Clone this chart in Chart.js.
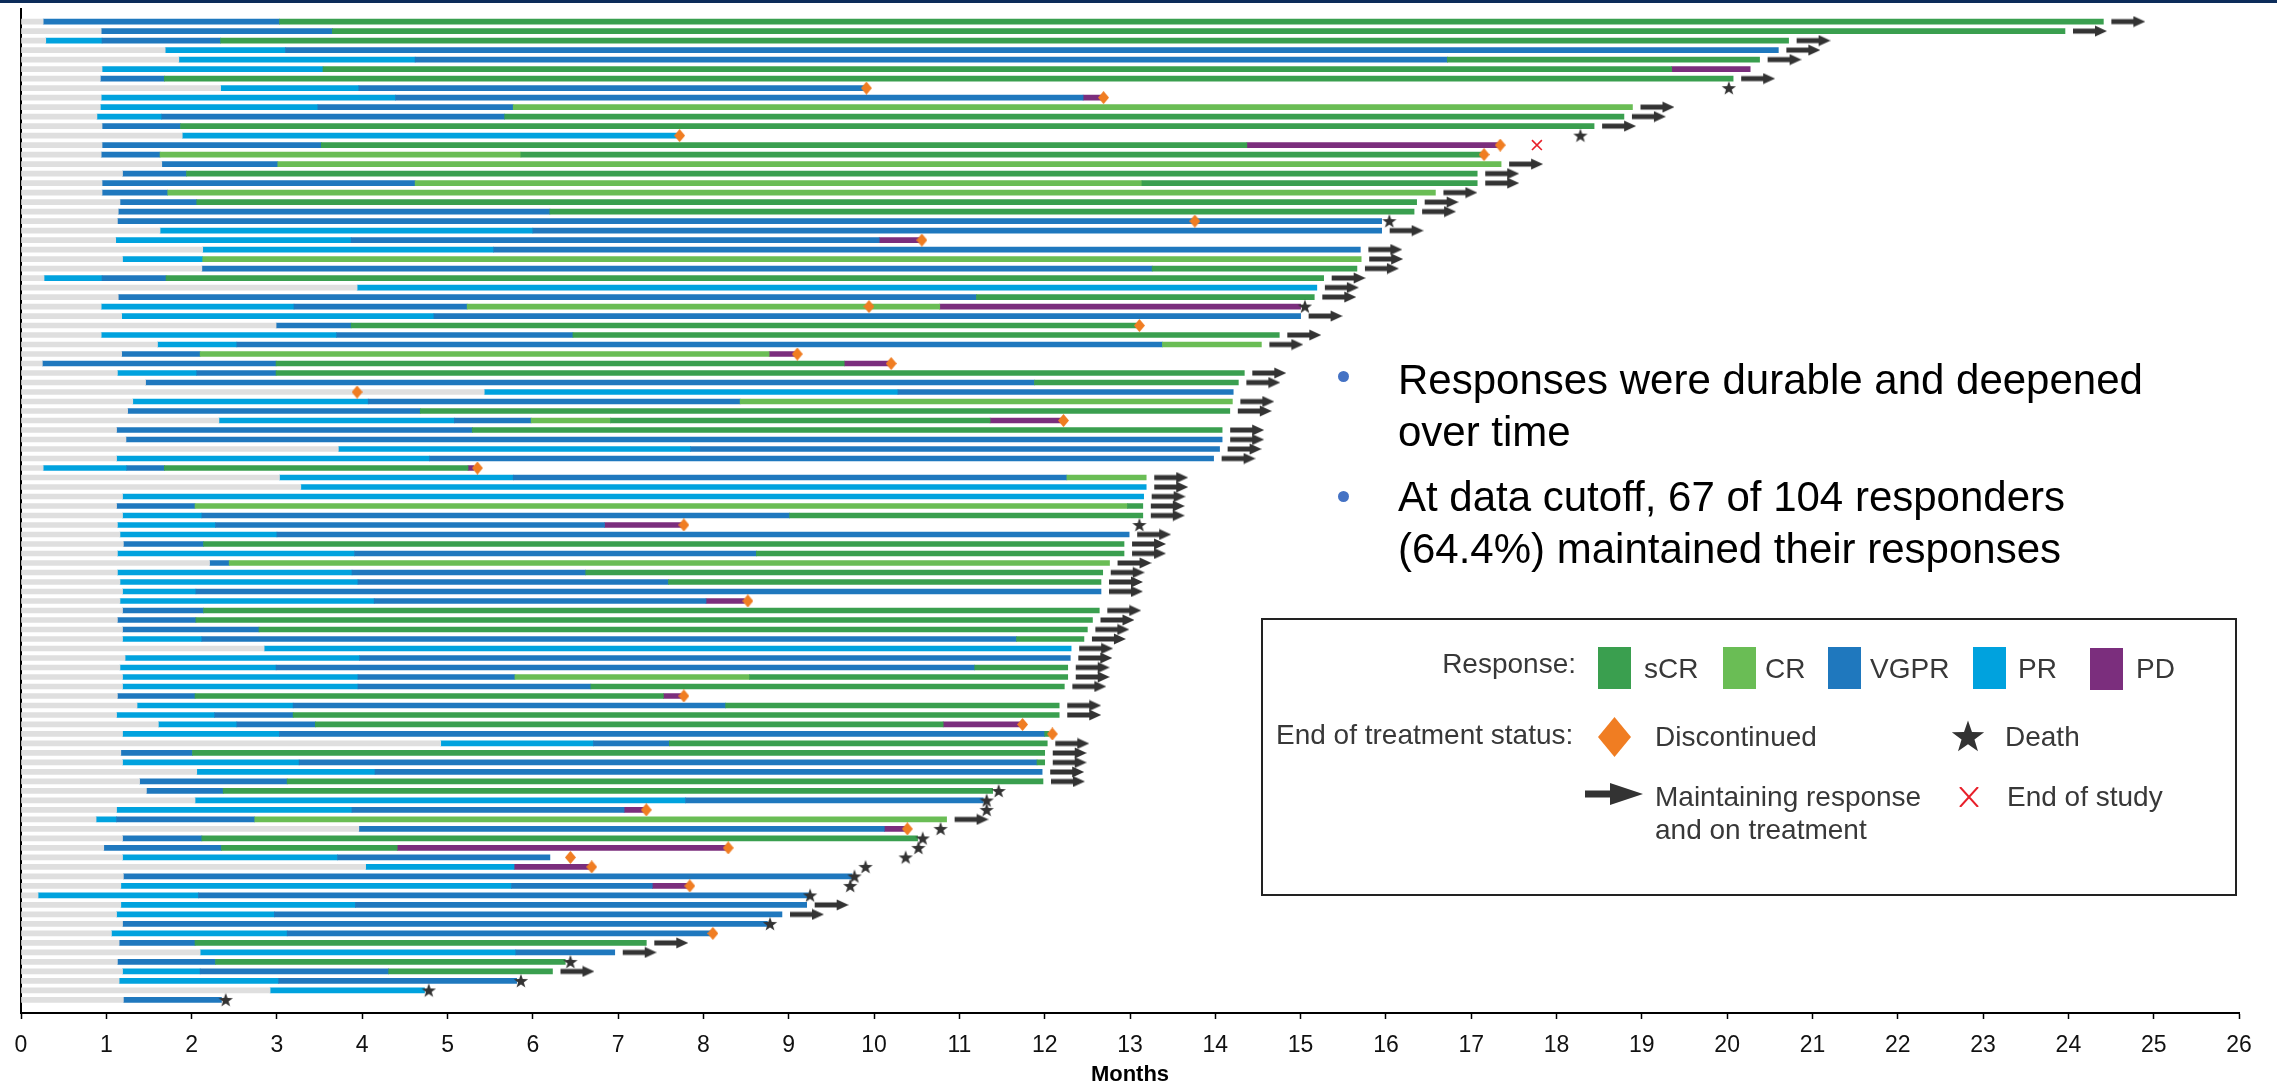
<!DOCTYPE html>
<html>
<head>
<meta charset="utf-8">
<title>Duration of response</title>
<script src="https://cdn.jsdelivr.net/npm/chart.js@4.4.1/dist/chart.umd.min.js"></script>
<style>
  body { margin: 0; background: #fff; }
  #page { position: relative; width: 2277px; height: 1088px; overflow: hidden; font-family: "Liberation Sans", Arial, sans-serif; }
  #topBand { position: absolute; left: 0; top: 0; width: 2277px; height: 3px; background: #0c2c5a; }
  #swimmer { position: absolute; left: 0; top: 0; }
  .note { position: absolute; left: 1398px; font-size: 42px; line-height: 52px; color: #000; white-space: nowrap; }
  .dot { position: absolute; left: 1338px; width: 11px; height: 11px; border-radius: 50%; background: #4472c4; }
  #legendBox { position: absolute; left: 1261px; top: 618px; width: 976px; height: 278px; border: 2px solid #222; box-sizing: border-box; }
  .lg { position: absolute; font-size: 28px; line-height: 28px; color: #383838; white-space: nowrap; }
  .sw { position: absolute; top: 647px; width: 33px; height: 42px; }
  .icon { position: absolute; }
</style>
</head>
<body>
<div id="page">
  <canvas id="swimmer" width="2277" height="1088"></canvas>
  <div id="topBand"></div>

  <div class="dot" style="top:371px"></div>
  <div class="note" style="top:354px">Responses were durable and deepened<br>over time</div>
  <div class="dot" style="top:491px"></div>
  <div class="note" style="top:471px">At data cutoff, 67 of 104 responders<br>(64.4%) maintained their responses</div>

  <div id="legendBox"></div>
  <div class="lg" style="right:701px; top:650px">Response:</div>
  <div class="sw" style="left:1598px; background:#3a9f4f"></div>
  <div class="lg" style="left:1644px; top:655px">sCR</div>
  <div class="sw" style="left:1723px; background:#6abd55"></div>
  <div class="lg" style="left:1765px; top:655px">CR</div>
  <div class="sw" style="left:1828px; background:#1f78be"></div>
  <div class="lg" style="left:1870px; top:655px">VGPR</div>
  <div class="sw" style="left:1973px; background:#00a2de"></div>
  <div class="lg" style="left:2018px; top:655px">PR</div>
  <div class="sw" style="left:2090px; top:648px; background:#7b2e7d"></div>
  <div class="lg" style="left:2136px; top:655px">PD</div>

  <div class="lg" style="left:1276px; top:721px">End of treatment status:</div>
  <div class="lg" style="left:1655px; top:723px">Discontinued</div>
  <div class="lg" style="left:2005px; top:723px">Death</div>
  <div class="lg" style="left:1655px; top:781px; line-height:32.6px">Maintaining response<br>and on treatment</div>
  <div class="lg" style="left:2007px; top:783px">End of study</div>
</div>

<script>
// one row per responder, top to bottom:
// [response start, type, end, type, end, ...]; grey runs from 0 to the response start
// S = sCR, C = CR, V = VGPR, P = PR, D = PD
const rows = [
  [0.26,'V',3.03,'S',24.41],
  [0.94,'V',3.65,'S',23.96],
  [0.29,'P',0.95,'V',2.34,'S',20.72],
  [1.69,'P',3.10,'V',20.60],
  [1.85,'P',4.62,'V',16.72,'S',20.38],
  [0.95,'P',3.54,'S',19.35,'D',20.27],
  [0.93,'V',1.68,'S',20.07],
  [2.34,'P',3.96,'V',9.91],
  [0.94,'P',4.39,'V',12.45,'D',12.69],
  [0.93,'P',3.48,'V',5.77,'C',18.89],
  [0.89,'P',1.65,'V',5.67,'S',18.79],
  [0.95,'V',1.87,'S',18.44],
  [1.89,'P',7.72],
  [0.95,'V',3.52,'S',14.37,'D',17.34],
  [0.94,'V',1.63,'C',5.86,'S',17.15],
  [1.65,'V',3.01,'C',17.35],
  [1.19,'V',1.94,'S',17.07],
  [0.95,'V',4.62,'C',13.14,'S',17.07],
  [0.95,'V',1.72,'C',16.58],
  [1.16,'V',2.06,'S',16.36],
  [1.14,'V',6.20,'S',16.33],
  [1.13,'V',15.95],
  [1.63,'P',6.00,'V',15.95],
  [1.11,'P',3.87,'V',10.06,'D',10.56],
  [2.13,'P',5.54,'V',15.70],
  [1.19,'P',2.13,'C',15.71],
  [2.12,'V',13.26,'S',15.66],
  [0.27,'P',0.95,'V',1.70,'S',15.27],
  [3.94,'P',15.19],
  [1.14,'V',11.20,'S',15.16],
  [0.94,'P',3.20,'V',5.23,'C',10.77,'D',15.00],
  [1.18,'P',4.84,'V',15.00],
  [2.99,'V',3.87,'S',13.11],
  [0.94,'P',3.70,'V',6.47,'S',14.75],
  [1.60,'P',2.53,'V',13.38,'C',14.54],
  [1.18,'V',2.10,'C',8.77,'D',9.10],
  [0.25,'V',2.99,'S',9.65,'D',10.20],
  [1.13,'P',2.06,'V',2.99,'S',14.34],
  [1.46,'V',11.88,'S',14.27],
  [5.43,'P',10.28,'V',14.21],
  [1.31,'P',4.07,'V',8.43,'C',14.20],
  [1.25,'V',4.68,'S',14.17],
  [2.32,'P',5.08,'V',5.98,'C',6.91,'S',11.36,'D',12.22],
  [1.12,'V',5.29,'S',14.08],
  [1.23,'V',14.08],
  [3.72,'P',7.85,'V',14.05],
  [1.12,'P',4.79,'V',13.98],
  [0.26,'P',1.24,'V',1.68,'S',5.24,'D',5.31],
  [3.03,'P',5.77,'V',12.26,'C',13.19],
  [3.28,'P',13.19],
  [1.19,'P',13.16],
  [1.12,'V',2.04,'C',12.97,'S',13.15],
  [1.19,'P',2.12,'V',9.01,'S',13.15],
  [1.13,'P',2.28,'V',6.84,'D',7.77],
  [1.16,'P',3.00,'V',12.99],
  [1.20,'V',2.14,'S',12.93],
  [1.13,'P',3.91,'V',8.62,'S',12.93],
  [2.21,'V',2.44,'C',12.76],
  [1.13,'P',3.88,'V',6.62,'S',12.68],
  [1.16,'P',3.95,'V',7.59,'S',12.66],
  [1.19,'P',2.05,'V',12.66],
  [1.16,'P',4.14,'V',8.03,'D',8.48],
  [1.19,'V',2.14,'S',12.64],
  [1.13,'V',2.05,'S',12.56],
  [1.19,'V',2.79,'S',12.50],
  [1.19,'P',2.12,'V',11.67,'S',12.46],
  [2.85,'P',12.31],
  [1.22,'P',3.97,'V',12.30],
  [1.16,'P',2.99,'V',11.18,'S',12.27],
  [1.19,'P',3.95,'V',5.79,'C',8.54,'S',12.27],
  [1.19,'P',3.95,'V',6.68,'S',12.23],
  [1.13,'V',2.04,'S',7.53,'D',7.74],
  [1.36,'P',3.19,'V',8.26,'S',12.17],
  [1.12,'P',2.27,'V',3.19,'S',12.17],
  [1.61,'P',2.53,'V',3.45,'S',10.81,'D',11.74],
  [1.19,'P',3.03,'V',12.00,'S',12.05],
  [4.92,'P',6.71,'V',7.60,'S',12.03],
  [1.17,'V',2.01,'S',12.00],
  [1.19,'P',3.26,'V',11.91,'S',12.00],
  [2.06,'P',4.15,'V',11.97],
  [1.39,'V',3.12,'S',11.98],
  [1.47,'V',2.37,'S',11.39],
  [2.04,'P',7.79,'V',11.28],
  [1.12,'P',3.88,'V',7.07,'D',7.30],
  [0.88,'P',1.12,'V',2.74,'C',10.85],
  [3.96,'V',10.12,'D',10.37],
  [1.19,'V',2.12,'S',10.51],
  [0.97,'V',2.35,'S',4.41,'D',8.28],
  [1.19,'P',3.71,'V',6.20],
  [4.04,'P',5.78,'D',6.66],
  [1.20,'V',9.74],
  [1.17,'P',5.75,'V',7.40,'D',7.82],
  [0.20,'P',2.08,'V',9.23],
  [1.17,'P',3.92,'V',9.21],
  [1.12,'P',2.97,'V',8.92],
  [1.19,'V',8.75],
  [1.06,'P',3.12,'V',8.09],
  [1.15,'V',2.04,'S',7.33],
  [2.10,'P',5.80,'V',6.96],
  [1.13,'V',2.28,'S',6.38],
  [1.19,'P',2.10,'V',4.31,'S',6.23],
  [1.15,'P',3.02,'V',5.81],
  [2.92,'P',4.73],
  [1.20,'V',2.35]
];

// rows (1-based) still responding and on treatment at cutoff
const ongoing = [1,2,3,4,5,7,10,11,12,16,17,18,19,20,21,23,25,26,27,28,29,30,32,34,35,38,39,
  41,42,44,45,46,47,49,50,51,52,53,55,56,57,58,59,60,61,63,64,65,66,67,68,69,70,71,73,74,
  77,78,79,80,81,85,94,95,98,99,101];

// [row, month]
const discontinued = [[8,9.91],[9,12.69],[13,7.72],[14,17.34],[15,17.15],[22,13.76],[24,10.56],
  [31,9.94],[33,13.11],[36,9.10],[37,10.20],[40,3.94],[43,12.22],[48,5.35],[54,7.77],[62,8.52],
  [72,7.77],[75,11.74],[76,12.09],[84,7.33],[86,10.39],[88,8.29],[89,6.44],[90,6.69],[92,7.84],[97,8.11]];
const deaths = [[8,20.02],[13,18.28],[22,16.04],[31,15.05],[54,13.11],[82,11.46],[83,11.32],[84,11.32],
  [86,10.78],[87,10.57],[88,10.52],[89,10.37],[90,9.90],[91,9.77],[92,9.72],[93,9.25],[96,8.78],
  [100,6.44],[102,5.86],[103,4.78],[104,2.40]];
const endOfStudy = [[14,17.77]];

const responseCodes = ['S','C','V','P','D'];
const responseLabels = ['sCR','CR','VGPR','PR','PD'];
const responseColors = ['#3a9f4f','#6abd55','#1f78be','#00a2de','#7b2e7d'];
const preColor = '#dfdfdf';
const FONT = '"Liberation Sans", Arial, sans-serif';

// ---- marker images ----
function makeCanvas(w, h, draw) {
  const c = document.createElement('canvas');
  c.width = w; c.height = h;
  draw(c.getContext('2d'), w, h);
  return c;
}
function drawStar(ctx, cx, cy, R) {
  const r = R * 0.4;
  ctx.beginPath();
  for (let i = 0; i < 10; i++) {
    const a = -Math.PI / 2 + i * Math.PI / 5;
    const rad = i % 2 ? r : R;
    ctx.lineTo(cx + rad * Math.cos(a), cy + rad * Math.sin(a));
  }
  ctx.closePath();
  ctx.fillStyle = '#333';
  ctx.fill();
}
function drawDiamond(ctx, w, h) {
  ctx.beginPath();
  ctx.moveTo(w / 2, 0); ctx.lineTo(w, h / 2); ctx.lineTo(w / 2, h); ctx.lineTo(0, h / 2);
  ctx.closePath();
  ctx.fillStyle = '#f07d22';
  ctx.fill();
}
function drawArrow(ctx, x0, cy, len, headLen, headH, shaftH) {
  ctx.fillStyle = '#333';
  ctx.fillRect(x0, cy - shaftH / 2, len - headLen + 1, shaftH);
  ctx.beginPath();
  ctx.moveTo(x0 + len - headLen, cy - headH / 2);
  ctx.lineTo(x0 + len, cy);
  ctx.lineTo(x0 + len - headLen, cy + headH / 2);
  ctx.closePath();
  ctx.fill();
}

// arrow image is centred on the bar end, so the arrow itself sits in the right half
const ARROW_GAP = 8, ARROW_LEN = 34;
const arrowImg = makeCanvas(2 * (ARROW_GAP + ARROW_LEN), 12,
  (ctx, w, h) => drawArrow(ctx, w / 2 + ARROW_GAP, h / 2, ARROW_LEN, 12, 11, 5));
const starImg = makeCanvas(16, 16, (ctx, w, h) => drawStar(ctx, w / 2, h / 2 + 0.5, 7.5));
const diamondImg = makeCanvas(11, 13, drawDiamond);

// ---- datasets ----
function segmentsOf(code) {
  const out = [];
  rows.forEach((r, i) => {
    let start = r[0];
    for (let k = 1; k < r.length; k += 2) {
      if (r[k] === code) out.push({ x: [start, r[k + 1]], y: i + 1 });
      start = r[k + 1];
    }
  });
  return out;
}
function barSet(label, data, color) {
  return { type: 'bar', label, data, backgroundColor: color, borderWidth: 0,
           grouped: false, barThickness: 5, order: 2 };
}
function markSet(label, data, style, extra) {
  return Object.assign({ type: 'scatter', label, data, pointStyle: style, pointRadius: 5,
           pointHoverRadius: 5, order: 0 }, extra || {});
}
const rowEnd = r => r[r.length - 1];

const datasets = [
  markSet('Maintaining response', ongoing.map(n => ({ x: rowEnd(rows[n - 1]), y: n })), arrowImg),
  markSet('Death', deaths.map(([n, m]) => ({ x: m, y: n })), starImg),
  markSet('Discontinued', discontinued.map(([n, m]) => ({ x: m, y: n })), diamondImg),
  markSet('End of study', endOfStudy.map(([n, m]) => ({ x: m, y: n })), 'crossRot',
    { pointRadius: 7, pointBorderColor: '#e8202a', pointBorderWidth: 1.6 }),
  barSet('Before response', rows.map((r, i) => ({ x: [0, r[0]], y: i + 1 })), preColor)
];
responseCodes.forEach((c, k) => datasets.push(barSet(responseLabels[k], segmentsOf(c), responseColors[k])));

new Chart(document.getElementById('swimmer'), {
  type: 'bar',
  data: { datasets },
  options: {
    indexAxis: 'y',
    responsive: false,
    animation: false,
    events: [],
    layout: { padding: { left: 21, right: 38, top: 7, bottom: 0 } },
    plugins: { legend: { display: false }, tooltip: { enabled: false } },
    scales: {
      x: {
        type: 'linear', position: 'bottom', min: 0, max: 26, offset: false,
        afterFit: s => { s.height = 75; },
        ticks: { stepSize: 1, autoSkip: false, maxRotation: 0, padding: 13, color: '#111',
                 font: { family: FONT, size: 23 } },
        grid: { drawOnChartArea: false, drawTicks: true, tickLength: 6, tickColor: '#000', tickWidth: 1.5 },
        border: { color: '#000', width: 2 },
        title: { display: true, text: 'Months', color: '#000', padding: { top: 0, bottom: 0 },
                 font: { family: FONT, size: 22, weight: 'bold' } }
      },
      y: {
        type: 'linear', position: 'left', reverse: true, min: -0.37, max: 105.38,
        offset: false,
        afterFit: s => { s.width = 0; },
        ticks: { display: false },
        grid: { display: false, offset: false },
        border: { color: '#000', width: 2 }
      }
    }
  }
});

// ---- legend icons ----
function placeIcon(canvas, left, top) {
  canvas.className = 'icon';
  canvas.style.left = left + 'px';
  canvas.style.top = top + 'px';
  document.getElementById('page').appendChild(canvas);
}
placeIcon(makeCanvas(33, 40, drawDiamond), 1598, 717);
placeIcon(makeCanvas(34, 34, (ctx, w, h) => drawStar(ctx, w / 2, h / 2 + 1.5, 17)), 1951, 719);
placeIcon(makeCanvas(60, 24, (ctx, w, h) => drawArrow(ctx, 0, h / 2, 58, 33, 22, 7)), 1585, 782);
placeIcon(makeCanvas(20, 20, (ctx, w, h) => {
  ctx.strokeStyle = '#e8202a'; ctx.lineWidth = 2;
  ctx.beginPath();
  ctx.moveTo(1, 0); ctx.lineTo(19, 20);
  ctx.moveTo(19, 0); ctx.lineTo(1, 20);
  ctx.stroke();
}), 1959, 787);
</script>
</body>
</html>
